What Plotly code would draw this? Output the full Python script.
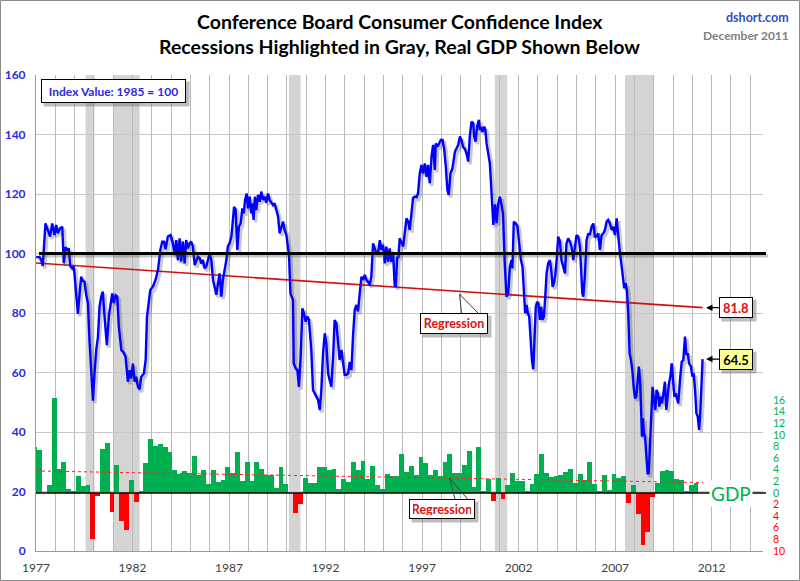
import plotly.graph_objects as go

# ---------------- DATA ----------------
# Consumer confidence index (chart-year positions as read from the axis, index values)
CONF_T = [1977.01, 1977.18, 1977.27, 1977.35, 1977.49, 1977.61, 1977.73, 1977.84, 1977.96, 1978.05,
          1978.13, 1978.25, 1978.36, 1978.44, 1978.53, 1978.62, 1978.70, 1978.77, 1978.88, 1978.96,
          1979.08, 1979.17, 1979.26, 1979.34, 1979.43, 1979.51, 1979.60, 1979.69, 1979.77, 1979.86,
          1979.95, 1980.03, 1980.12, 1980.21, 1980.29, 1980.38, 1980.46, 1980.55, 1980.67, 1980.78,
          1980.86, 1980.95, 1981.03, 1981.12, 1981.21, 1981.29, 1981.42, 1981.54, 1981.64, 1981.76,
          1981.85, 1981.93, 1982.02, 1982.11, 1982.19, 1982.28, 1982.37, 1982.45, 1982.59, 1982.68,
          1982.75, 1982.85, 1982.92, 1983.06, 1983.19, 1983.32, 1983.44, 1983.54, 1983.63, 1983.71,
          1983.83, 1983.97, 1984.09, 1984.18,
          1984.27, 1984.35, 1984.44, 1984.52, 1984.61, 1984.70, 1984.78, 1984.87, 1984.96, 1985.04,
          1985.13, 1985.22, 1985.30, 1985.39, 1985.48, 1985.56, 1985.65, 1985.73, 1985.82, 1985.91,
          1985.99, 1986.08, 1986.17, 1986.25, 1986.34, 1986.43, 1986.51, 1986.60, 1986.68, 1986.77,
          1986.86, 1986.94, 1987.03, 1987.12, 1987.17, 1987.26, 1987.34, 1987.43, 1987.51, 1987.60,
          1987.69, 1987.76, 1987.83, 1987.91, 1987.98, 1988.07, 1988.15, 1988.21, 1988.27, 1988.34,
          1988.41, 1988.50, 1988.59, 1988.67, 1988.76, 1988.85, 1988.93, 1989.02, 1989.10, 1989.19,
          1989.28, 1989.36, 1989.45, 1989.54, 1989.62, 1989.71, 1989.80, 1989.88, 1989.97, 1990.05,
          1990.11, 1990.18, 1990.24, 1990.31, 1990.35, 1990.45, 1990.54, 1990.62, 1990.71, 1990.80,
          1990.88, 1990.97, 1991.06, 1991.14,
          1991.26, 1991.35, 1991.44, 1991.52, 1991.61, 1991.70, 1991.78, 1991.87, 1991.96, 1992.04,
          1992.13, 1992.21, 1992.30, 1992.39, 1992.47, 1992.56, 1992.65, 1992.73, 1992.82, 1992.91,
          1992.99, 1993.08, 1993.17, 1993.25, 1993.34, 1993.42, 1993.51, 1993.60, 1993.68, 1993.77,
          1993.86, 1993.94, 1994.03, 1994.12, 1994.20, 1994.29, 1994.37, 1994.46, 1994.55, 1994.63,
          1994.72, 1994.81, 1994.89, 1994.98, 1995.07, 1995.15, 1995.24, 1995.32, 1995.41, 1995.50,
          1995.58, 1995.64, 1995.71, 1995.77, 1995.84, 1995.93, 1996.02, 1996.10, 1996.19, 1996.28,
          1996.36, 1996.45, 1996.53, 1996.62, 1996.71, 1996.79, 1996.88, 1996.97, 1997.05, 1997.14,
          1997.23, 1997.31, 1997.40, 1997.49, 1997.57, 1997.66, 1997.71, 1997.80, 1997.88, 1997.97,
          1998.06, 1998.14, 1998.23, 1998.31, 1998.38, 1998.47, 1998.57, 1998.66,
          1998.70, 1998.78, 1998.87, 1998.96, 1999.04, 1999.13, 1999.21, 1999.30, 1999.39, 1999.47,
          1999.56, 1999.65, 1999.70, 1999.77, 1999.85, 1999.94, 1999.99, 2000.06, 2000.13, 2000.22,
          2000.28, 2000.34, 2000.42, 2000.51,
          2000.56, 2000.61, 2000.69, 2000.78, 2000.86, 2000.94, 2001.03, 2001.11, 2001.19, 2001.28,
          2001.37, 2001.46, 2001.55, 2001.63, 2001.68, 2001.75, 2001.86, 2001.94, 2002.03, 2002.12,
          2002.20, 2002.27, 2002.34, 2002.41, 2002.48, 2002.55, 2002.62, 2002.69, 2002.76, 2002.83,
          2002.89, 2002.96, 2003.03, 2003.10, 2003.17, 2003.24, 2003.31, 2003.38, 2003.45, 2003.53,
          2003.62, 2003.69, 2003.76, 2003.83, 2003.90, 2003.97, 2004.05, 2004.14, 2004.22, 2004.31,
          2004.40, 2004.48, 2004.57, 2004.66, 2004.74, 2004.83, 2004.92, 2005.00, 2005.09, 2005.18,
          2005.23, 2005.30, 2005.35, 2005.43, 2005.52, 2005.61, 2005.69, 2005.78, 2005.87, 2005.95,
          2006.04, 2006.13, 2006.21, 2006.30, 2006.39, 2006.47, 2006.56, 2006.64, 2006.73, 2006.82,
          2006.90, 2006.99, 2007.08, 2007.16, 2007.25, 2007.34, 2007.42, 2007.47, 2007.54, 2007.61,
          2007.68, 2007.75, 2007.82, 2007.89, 2007.96, 2008.03, 2008.10, 2008.17, 2008.23, 2008.30,
          2008.34, 2008.39, 2008.44, 2008.49, 2008.55, 2008.61, 2008.68, 2008.74, 2008.80, 2008.89,
          2008.94, 2009.01, 2009.08, 2009.15, 2009.22, 2009.29, 2009.36, 2009.43, 2009.50, 2009.58,
          2009.65, 2009.72, 2009.79, 2009.86, 2009.93, 2010.00, 2010.07, 2010.14, 2010.20, 2010.27,
          2010.36, 2010.45, 2010.53, 2010.62, 2010.69, 2010.76, 2010.83, 2010.93, 2011.00, 2011.07,
          2011.14, 2011.21, 2011.28, 2011.35, 2011.41, 2011.48, 2011.53]
CONF_V = [98.7, 98.9, 97.8, 95.8, 110.1, 107.9, 105.7, 110.1, 106.2, 109.6,
          106.8, 108.5, 109.0, 96.7, 102.1, 101.2, 101.7, 95.8, 95.0, 95.6,
          86.6, 79.7, 86.6, 92.2, 90.8, 90.5, 86.1, 83.3, 70.9, 58.6,
          50.5, 59.7, 67.6, 72.0, 82.1, 85.5, 87.2, 78.8, 69.2, 79.3,
          83.3, 86.6, 83.3, 86.0, 85.5, 75.4, 67.6, 66.7, 65.3, 56.9,
          60.8, 58.0, 63.0, 56.9, 58.6, 55.2, 54.3, 58.6, 59.7, 64.2,
          78.8, 83.2, 87.7, 88.9, 91.1, 94.5, 101.2, 104.0, 104.0, 101.4,
          105.7, 106.2, 103.5, 99.5,
          104.5, 97.8, 105.1, 97.3, 104.0, 96.7, 104.5, 101.7, 103.4, 104.0,
          102.3, 96.1, 97.8, 98.9, 98.4, 96.7, 97.8, 95.0, 95.6, 98.4,
          100.0, 97.8, 91.1, 88.8, 86.1, 90.0, 93.3, 85.5, 91.1, 94.5,
          97.8, 102.5, 103.4, 105.6, 110.1, 115.7, 114.8, 101.2, 109.0, 110.1,
          115.2, 113.5, 118.0, 120.2, 115.2, 119.1, 113.5, 116.9, 111.3, 119.1,
          114.6, 119.7, 117.4, 120.8, 118.0, 119.1, 117.1, 120.2, 118.0, 116.9,
          116.3, 116.9, 114.6, 112.4, 106.8, 109.0, 110.7, 107.9, 106.2, 102.3,
          98.9, 86.6, 85.5, 84.4, 63.1, 61.4, 60.8, 55.2, 65.3, 81.6,
          79.9, 77.1, 78.8, 77.6,
          67.6, 54.1, 53.0, 51.9, 50.8, 47.4, 54.1, 66.5, 73.2, 69.8,
          59.7, 57.5, 55.2, 65.3, 77.6, 76.5, 70.9, 64.2, 67.6, 63.1,
          59.2, 59.2, 59.7, 63.6, 60.8, 72.1, 81.0, 82.7, 80.5, 86.6,
          92.2, 91.1, 92.8, 91.1, 90.5, 89.4, 92.2, 103.4, 101.7, 100.1,
          100.1, 104.5, 101.2, 102.9, 96.7, 102.3, 97.2, 101.7, 97.2, 100.1,
          89.4, 88.8, 98.9, 98.4, 105.1, 103.4, 102.3, 106.8, 111.8, 110.7,
          107.9, 113.5, 118.6, 119.1, 118.9, 120.2, 126.9, 129.8, 126.9, 130.3,
          125.8, 129.8, 123.6, 132.6, 136.5, 128.1, 137.0, 135.9, 137.0, 138.2,
          138.2, 135.4, 129.2, 121.3, 119.7, 126.9, 128.6, 133.7,
          134.2, 135.3, 136.5, 139.3, 138.1, 135.7, 135.3, 133.6, 130.9, 139.3,
          144.3, 143.8, 139.3, 137.6, 142.6, 144.9, 141.5, 142.6, 140.9, 142.6,
          141.5, 137.0, 133.6, 130.3,
          124.7, 116.5, 109.6, 116.5, 110.2, 116.5, 119.1, 116.5, 113.5, 97.0,
          85.5, 86.6, 95.6, 97.8, 95.0, 110.7, 110.1, 109.0, 102.3, 97.8,
          95.6, 88.8, 79.9, 82.7, 79.9, 78.8, 70.9, 64.2, 61.1, 72.1,
          82.1, 83.8, 83.3, 77.7, 82.1, 77.7, 78.8, 85.5, 93.3, 96.7,
          97.8, 94.5, 88.8, 90.0, 92.8, 97.8, 105.7, 104.0, 97.8, 95.6,
          93.3, 103.4, 105.1, 104.0, 102.3, 97.8, 103.4, 106.2, 105.7, 102.3,
          95.6, 86.6, 85.5, 92.2, 104.5, 106.8, 106.2, 109.0, 110.1, 105.7,
          105.7, 106.8, 101.2, 106.2, 106.8, 107.9, 110.7, 111.3, 110.1, 107.9,
          109.0, 106.2, 111.8, 105.7, 100.0, 95.6, 91.1, 88.3, 90.0, 87.7,
          79.9, 66.5, 64.2, 60.8, 55.2, 51.3, 51.9, 58.6, 62.0, 56.4,
          46.3, 38.4, 44.6, 39.6, 38.4, 31.7, 26.1, 26.1, 36.2, 47.4,
          55.2, 50.8, 47.4, 54.1, 53.0, 48.5, 51.9, 49.6, 53.0, 56.9,
          47.4, 53.0, 56.4, 58.6, 63.1, 57.5, 51.9, 53.0, 50.8, 49.6,
          57.5, 63.6, 64.2, 72.1, 65.9, 66.5, 63.1, 62.0, 58.6, 59.7,
          54.1, 46.3, 45.2, 40.7, 46.3, 57.5, 64.5]

# Regression of the index (end points)
CONF_REG_T = [1977.0, 2011.53]
CONF_REG_V = [96.8, 81.8]

# Real GDP, quarterly annualised % change, 1977Q2 .. 2011Q3
GDP = [8.0, 7.4, 0.0,
       1.3, 16.4, 4.1, 5.4,
       0.7, 0.4, 3.0, 1.2,
       1.3, -7.9, -0.6, 7.6,
       8.6, -3.2, 4.9, -4.9,
       -6.4, 2.2, -1.5, 0.3,
       5.1, 9.3, 8.1, 8.5,
       8.0, 7.1, 3.9, 3.3,
       3.8, 3.4, 6.4, 3.1,
       3.9, 1.6, 3.9, 1.9,
       2.2, 4.4, 3.5, 7.0,
       2.1, 5.3, 2.1, 5.4,
       4.1, 3.1, 3.1, 0.8,
       4.4, 1.5, 0.0, -3.5,
       -1.9, 2.6, 1.8, 1.7,
       4.4, 4.4, 4.0, 4.2,
       0.7, 2.5, 1.9, 5.4,
       3.9, 5.6, 2.4, 4.6,
       1.3, 0.7, 3.3, 3.0,
       2.9, 6.8, 3.6, 4.6,
       3.1, 6.2, 5.1, 3.1,
       3.9, 3.0, 5.4, 6.7,
       3.4, 3.4, 4.8, 7.3,
       1.1, 8.0, 0.3, 2.4,
       -1.3, 2.6, -1.1, 1.4,
       3.5, 2.1, 2.0, 0.2,
       1.6, 3.2, 6.8, 3.5,
       2.8, 2.9, 3.1, 3.6,
       4.2, 1.8, 3.2, 2.2,
       5.3, 1.6, 0.2, 3.1,
       0.5, 3.2, 2.6, 2.9,
       -1.8, 1.3, -3.7, -8.9,
       -6.7, -0.7, 1.7, 3.8,
       3.9, 3.8, 2.5, 2.3,
       0.4, 1.3, 1.8]
GDP_START = 1976.94   # chart-year position of the first quarter (1977Q2)
GDP_STEP = 0.25

GDP_REG_T = [1977.0, 2011.55]
GDP_REG_V = [3.8, 1.8]

# Recessions (chart-year spans)
REC_START = [1979.57, 1981.03, 1990.10, 2000.77, 2007.51]
REC_END = [1980.03, 1982.37, 1990.70, 2001.41, 2008.98]

YEARS = list(range(1977, 2015))
LABEL_YEARS = [1977, 1982, 1987, 1992, 1997, 2002, 2007, 2012]
LEFT_TICKS = list(range(0, 161, 20))
GDP_TICKS = list(range(-10, 17, 2))

LAST_VALUE = 64.5
REG_END_VALUE = 81.8

# ---------------- FIGURE ----------------
FONT = "Lato"
L, R, T, B = 36, 37, 75, 30
W, H = 800, 581
PW, PH = W - L - R, H - T - B
XR = [1977, 2014.66]
YR = [0, 160]
SX = PW / (XR[1] - XR[0])
SY = PH / (YR[1] - YR[0])
SHX, SHY = 2.0, 2.5   # shadow offset in pixels


def px(xp):
    return (xp - L) / PW


def py(yp):
    return (H - B - yp) / PH


gdp_x = [GDP_START + GDP_STEP * i for i in range(len(GDP))]
gdp_colors = ["#00B050" if v >= 0 else "#FF0000" for v in GDP]

fig = go.Figure()

fig.add_trace(go.Bar(x=gdp_x, y=GDP, width=GDP_STEP, marker=dict(color=gdp_colors, line=dict(width=0)),
                     yaxis="y2", showlegend=False, hoverinfo="skip"))
fig.add_trace(go.Scatter(x=GDP_REG_T, y=GDP_REG_V, mode="lines", yaxis="y2",
                         line=dict(color="#FF2020", width=1, dash="dot"), showlegend=False))
fig.add_trace(go.Scatter(x=CONF_REG_T, y=CONF_REG_V, mode="lines",
                         line=dict(color="#D01010", width=1.6), showlegend=False))
# soft shadow of the index line (same data on shifted, hidden axes)
fig.add_trace(go.Scatter(x=CONF_T, y=CONF_V, mode="lines", xaxis="x2", yaxis="y3",
                         line=dict(color="rgba(60,60,60,0.28)", width=3.5), showlegend=False,
                         hoverinfo="skip"))
fig.add_trace(go.Scatter(x=CONF_T, y=CONF_V, mode="lines", xaxis="x3", yaxis="y4",
                         line=dict(color="#0000FF", width=2.4), showlegend=False))

shapes = []
for a, b in zip(REC_START, REC_END):
    shapes.append(dict(type="rect", xref="x", yref="paper", x0=a, x1=b, y0=0, y1=1,
                       fillcolor="#D4D4D4", line=dict(width=0), layer="below"))
# 100 line with shadow
y100 = py(H - B - 100 * SY + 2.5)
shapes.append(dict(type="line", xref="paper", yref="paper", x0=px(41), x1=px(768), y0=y100, y1=y100,
                   line=dict(color="rgba(60,60,60,0.3)", width=3)))
shapes.append(dict(type="line", xref="paper", yref="y", x0=px(39), x1=px(766), y0=100, y1=100,
                   line=dict(color="black", width=3)))
# GDP zero line
shapes.append(dict(type="line", xref="paper", yref="y2", x0=0, x1=px(766), y0=0, y1=0,
                   line=dict(color="black", width=1.3)))
# callout tails
shapes.append(dict(type="path", xref="paper", yref="paper",
                   path=f"M {px(461.5)},{py(313)} L {px(459.5)},{py(294)} L {px(478)},{py(313)}",
                   line=dict(color="#404040", width=1)))
shapes.append(dict(type="path", xref="paper", yref="paper",
                   path=f"M {px(455)},{py(499.5)} L {px(449.5)},{py(478)} L {px(468)},{py(499.5)}",
                   line=dict(color="#404040", width=1)))
# outer frame
shapes.append(dict(type="rect", xref="paper", yref="paper", x0=px(0.5), x1=px(799.5), y0=py(580.5), y1=py(0.5),
                   line=dict(color="#8A8A8A", width=1), fillcolor="rgba(0,0,0,0)"))

ann = []
CM = dict(xanchor="center", yanchor="middle")
BLANK = "\u00a0"


def boxed(x, y, text, color, bg, w, h, size):
    ann.append(dict(x=x, y=y, xref="paper", yref="paper", text=BLANK, showarrow=False,
                    font=dict(family=FONT, size=size),
                    bgcolor="rgba(110,110,110,0.45)", width=w, height=h, borderpad=4,
                    xshift=3, yshift=-3, **CM))
    ann.append(dict(x=x, y=y, xref="paper", yref="paper", text=text, showarrow=False,
                    font=dict(family=FONT, size=size, color=color, weight="bold"),
                    bgcolor=bg, bordercolor="black", borderwidth=1, width=w, height=h, borderpad=3, **CM))


boxed(px(113), py(91), "Index Value: 1985 = 100", "#2A2AE6", "white", 137, 16, 12)
boxed(px(454), py(323), "Regression", "#E01010", "white", 60, 13, 12.5)
boxed(px(442), py(508.5), "Regression", "#E01010", "white", 58, 12, 12.5)

# value callouts with arrows
for val, col, bg in [(REG_END_VALUE, "#E01010", "white"), (LAST_VALUE, "black", "#FFFF99")]:
    ann.append(dict(x=px(735.5 + 3), y=val, xref="paper", yref="y", yshift=-3, text=BLANK,
                    showarrow=False, font=dict(family=FONT, size=13),
                    bgcolor="rgba(110,110,110,0.45)", width=26, height=13, borderpad=4, **CM))
    ann.append(dict(x=px(706), y=val, xref="paper", yref="y", text=f"{val}", showarrow=True,
                    ax=29.5, ay=0, arrowhead=2, arrowsize=1, arrowwidth=1.3, arrowcolor="black",
                    font=dict(family=FONT, size=13, color=col, weight="bold"),
                    bgcolor=bg, bordercolor="black", borderwidth=1, width=26, height=13, borderpad=3, **CM))

ann.append(dict(x=px(731), y=0, xref="paper", yref="y2", text="GDP", showarrow=False,
                font=dict(family=FONT, size=19, color="#00B050"), bgcolor="white", borderpad=1, **CM))

# titles
ann.append(dict(x=px(400), y=py(22), xref="paper", yref="paper",
                text="Conference Board Consumer Confidence Index", showarrow=False,
                font=dict(family=FONT, size=19.5, color="black", weight="bold"), **CM))
ann.append(dict(x=px(399), y=py(47), xref="paper", yref="paper",
                text="Recessions Highlighted in Gray, Real GDP Shown Below", showarrow=False,
                font=dict(family=FONT, size=19.5, color="black", weight="bold"), **CM))
ann.append(dict(x=px(791), y=py(18), xref="paper", yref="paper", xanchor="right", yanchor="middle",
                text="dshort.com", showarrow=False,
                font=dict(family=FONT, size=12.5, color="#3050B8", weight="bold")))
ann.append(dict(x=px(791), y=py(35), xref="paper", yref="paper", xanchor="right", yanchor="middle",
                text="December 2011", showarrow=False,
                font=dict(family=FONT, size=12, color="#808080", weight="bold")))

gdp_text = []
for t in GDP_TICKS:
    if t < 0:
        gdp_text.append(f"<span style='color:#FF0000'>{-t}</span>")
    else:
        gdp_text.append(f"<span style='color:#00B050'>{t}</span>")

hidden = dict(visible=False, showgrid=False, zeroline=False, fixedrange=True)

fig.update_layout(
    width=W, height=H, margin=dict(l=L, r=R, t=T, b=B, autoexpand=False),
    paper_bgcolor="white", plot_bgcolor="white",
    shapes=shapes, annotations=ann, bargap=0, showlegend=False,
    xaxis=dict(range=XR, tickmode="array", tickvals=YEARS,
               ticktext=[str(y) if y in LABEL_YEARS else "" for y in YEARS],
               showgrid=True, gridcolor="#BABABA", gridwidth=1, zeroline=False,
               showline=True, linecolor="#9A9A9A", linewidth=1, ticks="",
               tickfont=dict(family=FONT, size=12, color="#404040"), ticklabelstandoff=6),
    yaxis=dict(range=YR, tickmode="array", tickvals=LEFT_TICKS,
               showgrid=True, gridcolor="#C8C8C8", gridwidth=1, zeroline=False,
               showline=True, linecolor="#9A9A9A", linewidth=1, ticks="",
               tickfont=dict(family=FONT, size=12, color="#2A2AE6", weight="bold"), ticklabelstandoff=7),
    yaxis2=dict(range=[-10, 72.07], overlaying="y", side="right", tickmode="array",
                tickvals=GDP_TICKS, ticktext=gdp_text, showgrid=False, zeroline=False,
                showline=False, ticks="", tickfont=dict(family=FONT, size=10.5), ticklabelstandoff=9),
    xaxis2=dict(overlaying="x", range=[XR[0] - SHX / SX, XR[1] - SHX / SX], **hidden),
    yaxis3=dict(overlaying="y", range=[YR[0] + SHY / SY, YR[1] + SHY / SY], **hidden),
    xaxis3=dict(overlaying="x", range=XR, **hidden),
    yaxis4=dict(overlaying="y", range=YR, **hidden),
)

fig.write_html("out.html", post_script="document.body.style.margin='0px';",
               config={"displayModeBar": False})
